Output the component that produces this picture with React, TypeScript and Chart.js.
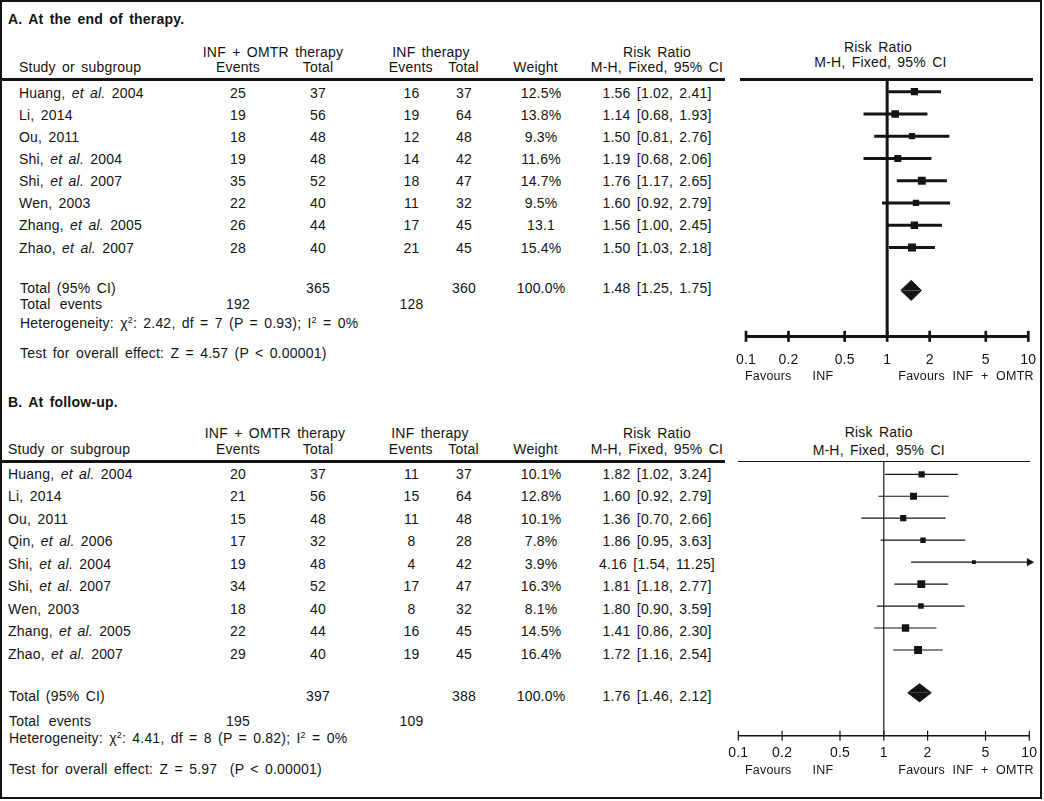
import React, { useEffect, useRef } from "react";
import { Chart, registerables } from "chart.js";

Chart.register(...registerables);

const FONT = '"Liberation Sans", Arial, Helvetica, sans-serif';
const INK = "#141414";

// ---------------- Panel A: At the end of therapy ----------------
const STUDIES_A = [
  "Huang, et al. 2004",
  "Li, 2014",
  "Ou, 2011",
  "Shi, et al. 2004",
  "Shi, et al. 2007",
  "Wen, 2003",
  "Zhang, et al. 2005",
  "Zhao, et al. 2007",
];
const EXP_EVENTS_A = [25, 19, 18, 19, 35, 22, 26, 28];
const EXP_TOTAL_A = [37, 56, 48, 48, 52, 40, 44, 40];
const CTL_EVENTS_A = [16, 19, 12, 14, 18, 11, 17, 21];
const CTL_TOTAL_A = [37, 64, 48, 42, 47, 32, 45, 45];
const WEIGHT_A = ["12.5%", "13.8%", "9.3%", "11.6%", "14.7%", "9.5%", "13.1", "15.4%"];
const RR_A = [1.56, 1.14, 1.5, 1.19, 1.76, 1.6, 1.56, 1.5];
const LO_A = [1.02, 0.68, 0.81, 0.68, 1.17, 0.92, 1.0, 1.03];
const HI_A = [2.41, 1.93, 2.76, 2.06, 2.65, 2.79, 2.45, 2.18];
const TOTALS_A = [365, 360]; // experimental total, control total
const TOTAL_EVENTS_A = [192, 128];
const POOLED_A = [1.48, 1.25, 1.75];
const HET_A = ["2.42", "7", "0.93", "0%"]; // chi2, df, P, I2
const TEST_A = "Z = 4.57 (P < 0.00001)";

// ---------------- Panel B: At follow-up ----------------
const STUDIES_B = [
  "Huang, et al. 2004",
  "Li, 2014",
  "Ou, 2011",
  "Qin, et al. 2006",
  "Shi, et al. 2004",
  "Shi, et al. 2007",
  "Wen, 2003",
  "Zhang, et al. 2005",
  "Zhao, et al. 2007",
];
const EXP_EVENTS_B = [20, 21, 15, 17, 19, 34, 18, 22, 29];
const EXP_TOTAL_B = [37, 56, 48, 32, 48, 52, 40, 44, 40];
const CTL_EVENTS_B = [11, 15, 11, 8, 4, 17, 8, 16, 19];
const CTL_TOTAL_B = [37, 64, 48, 28, 42, 47, 32, 45, 45];
const WEIGHT_B = ["10.1%", "12.8%", "10.1%", "7.8%", "3.9%", "16.3%", "8.1%", "14.5%", "16.4%"];
const RR_B = [1.82, 1.6, 1.36, 1.86, 4.16, 1.81, 1.8, 1.41, 1.72];
const LO_B = [1.02, 0.92, 0.7, 0.95, 1.54, 1.18, 0.9, 0.86, 1.16];
const HI_B = [3.24, 2.79, 2.66, 3.63, 11.25, 2.77, 3.59, 2.3, 2.54];
const TOTALS_B = [397, 388];
const TOTAL_EVENTS_B = [195, 109];
const POOLED_B = [1.76, 1.46, 2.12];
const HET_B = ["4.41", "8", "0.82", "0%"];
const TEST_B = "Z = 5.97  (P < 0.00001)";

// ---------------- Axis ----------------
const TICK_VALUES = [0.1, 0.2, 0.5, 1, 2, 5, 10];
const TICK_LABELS = ["0.1", "0.2", "0.5", "1", "2", "5", "10"];
const X_MIN = 0.1;
const X_MAX = 10;
const TICK_FONT = 14;

const fmt = (v: number) => v.toFixed(2);

function T(props: {
  x: number;
  y: number;
  a?: "l" | "c" | "r";
  b?: boolean;
  style?: React.CSSProperties;
  children: React.ReactNode;
}) {
  const { x, y, a = "l", b, children, style } = props;
  const tx = a === "c" ? "-50%" : a === "r" ? "-100%" : "0";
  return (
    <div
      style={{
        position: "absolute",
        left: x,
        top: y,
        transform: `translate(${tx}, -50%)`,
        whiteSpace: "pre",
        lineHeight: "16px",
        height: 16,
        fontWeight: b ? "bold" : "normal",
        ...style,
      }}
    >
      {children}
    </div>
  );
}

function Name({ s }: { s: string }) {
  const parts = s.split("et al.");
  if (parts.length === 1) return <>{s}</>;
  return (
    <>
      {parts[0]}
      <i>et al.</i>
      {parts[1]}
    </>
  );
}

const supStyle: React.CSSProperties = {
  fontSize: 9,
  position: "relative",
  top: -5,
  verticalAlign: "baseline",
  lineHeight: 0,
};

type TableLayout = {
  title: string;
  titleY: number;
  nameX: number;
  h1Y: number;
  h2Y: number;
  grpExpX: number;
  grpCtlX: number;
  row0: number;
  step: number;
  totalY: number;
  eventsY: number;
  hetY: number;
  testY: number;
  ruleY: number;
};

const COL = { expEv: 238, expTot: 318, ctlEv: 411.5, ctlTot: 464, weightHead: 535.6, weight: 541, rr: 657 };

function Table(props: {
  L: TableLayout;
  studies: string[];
  expEv: number[];
  expTot: number[];
  ctlEv: number[];
  ctlTot: number[];
  weight: string[];
  rr: number[];
  lo: number[];
  hi: number[];
  totals: number[];
  events: number[];
  pooled: number[];
  het: string[];
  test: string;
}) {
  const { L } = props;
  return (
    <>
      <T x={8} y={L.titleY} b>
        {L.title}
      </T>
      <T x={L.grpExpX} y={L.h1Y} a="c">INF + OMTR therapy</T>
      <T x={L.grpCtlX} y={L.h1Y} a="c">INF therapy</T>
      <T x={COL.rr} y={L.h1Y} a="c">Risk Ratio</T>
      <T x={L.nameX} y={L.h2Y}>Study or subgroup</T>
      <T x={COL.expEv} y={L.h2Y} a="c">Events</T>
      <T x={COL.expTot} y={L.h2Y} a="c">Total</T>
      <T x={COL.ctlEv - 0.7} y={L.h2Y} a="c">Events</T>
      <T x={COL.ctlTot - 0.5} y={L.h2Y} a="c">Total</T>
      <T x={COL.weightHead} y={L.h2Y} a="c">Weight</T>
      <T x={COL.rr} y={L.h2Y} a="c">M-H, Fixed, 95% CI</T>
      <div style={{ position: "absolute", left: 0, top: L.ruleY - 1.5, width: 725, height: 3, background: INK }} />
      {props.studies.map((s, i) => {
        const y = L.row0 + i * L.step;
        return (
          <React.Fragment key={s + i}>
            <T x={L.nameX} y={y}>
              <Name s={s} />
            </T>
            <T x={COL.expEv} y={y} a="c">{String(props.expEv[i])}</T>
            <T x={COL.expTot} y={y} a="c">{String(props.expTot[i])}</T>
            <T x={COL.ctlEv} y={y} a="c">{String(props.ctlEv[i])}</T>
            <T x={COL.ctlTot} y={y} a="c">{String(props.ctlTot[i])}</T>
            <T x={COL.weight} y={y} a="c">{props.weight[i]}</T>
            <T x={COL.rr} y={y} a="c">{`${fmt(props.rr[i])} [${fmt(props.lo[i])}, ${fmt(props.hi[i])}]`}</T>
          </React.Fragment>
        );
      })}
      <T x={L.nameX + 1} y={L.totalY}>Total (95% CI)</T>
      <T x={COL.expTot} y={L.totalY} a="c">{String(props.totals[0])}</T>
      <T x={COL.ctlTot} y={L.totalY} a="c">{String(props.totals[1])}</T>
      <T x={COL.weight} y={L.totalY} a="c">100.0%</T>
      <T x={COL.rr} y={L.totalY} a="c">{`${fmt(props.pooled[0])} [${fmt(props.pooled[1])}, ${fmt(props.pooled[2])}]`}</T>
      <T x={L.nameX + 1} y={L.eventsY} style={{ wordSpacing: "5px" }}>Total events</T>
      <T x={COL.expEv} y={L.eventsY} a="c">{String(props.events[0])}</T>
      <T x={COL.ctlEv} y={L.eventsY} a="c">{String(props.events[1])}</T>
      <T x={L.nameX + 1} y={L.hetY}>
        Heterogeneity: χ<span style={supStyle}>2</span>: {props.het[0]}, df = {props.het[1]} (P = {props.het[2]}); I
        <span style={supStyle}>2</span> = {props.het[3]}
      </T>
      <T x={L.nameX + 1} y={L.testY}>{`Test for overall effect: ${props.test}`}</T>
    </>
  );
}

type ForestGeom = {
  canvasLeft: number;
  canvasWidth: number;
  plotLeft: number;
  plotRight: number;
  top: number;
  bottom: number;
  row0: number;
  rowStep: number;
  pooledRow: number;
  diamondHalf: number;
  lineW: number;
  axisW: number;
  tickR: number;
  tickW: number;
  labelY: number;
  squareK: number;
};

function Forest(props: {
  g: ForestGeom;
  rr: number[];
  lo: number[];
  hi: number[];
  weight: string[];
  pooled: number[];
}) {
  const { g } = props;
  const ref = useRef<HTMLCanvasElement>(null);
  const canvasTop = g.top - 12;
  const lh = TICK_FONT * 1.2;
  const pad = g.labelY - g.bottom - lh / 2;
  const height = Math.round(g.bottom - canvasTop + 60);

  useEffect(() => {
    if (!ref.current) return;
    const yMin = (g.top - g.row0) / g.rowStep;
    const yMax = (g.bottom - g.row0) / g.rowStep;
    const padBottom = height - (g.bottom - canvasTop) - 2 * pad - lh;
    const idx = props.rr.map((_, i) => i);
    const w = props.weight.map((s) => parseFloat(s));

    const lineDs = (data: { x: number; y: number }[], width: number, extra: any = {}) => ({
      type: "line" as const,
      data,
      borderColor: INK,
      backgroundColor: INK,
      borderWidth: width,
      pointRadius: 0,
      fill: false,
      tension: 0,
      ...extra,
    });

    const [pe, pl, ph] = props.pooled;
    const T0 = g.pooledRow;
    const datasets: any[] = [
      {
        type: "scatter",
        data: idx.map((i) => ({ x: props.rr[i], y: i })),
        pointStyle: "rect",
        pointRadius: w.map((v) => (g.squareK * Math.sqrt(v)) / Math.SQRT2),
        pointBackgroundColor: INK,
        pointBorderWidth: 0,
      },
      {
        type: "scatter",
        data: idx.filter((i) => props.hi[i] > X_MAX).map((i) => ({ x: X_MAX, y: i })),
        pointStyle: "triangle",
        rotation: 90,
        pointRadius: 4.8,
        pointBackgroundColor: INK,
        pointBorderWidth: 0,
        clip: false,
      },
      lineDs(
        [
          { x: pl, y: T0 },
          { x: pe, y: T0 - g.diamondHalf },
          { x: ph, y: T0 },
        ],
        1,
        { fill: { value: T0 } }
      ),
      lineDs(
        [
          { x: pl, y: T0 },
          { x: pe, y: T0 + g.diamondHalf },
          { x: ph, y: T0 },
        ],
        1,
        { fill: { value: T0 } }
      ),
      {
        type: "scatter",
        data: TICK_VALUES.map((v) => ({ x: v, y: yMax })),
        pointStyle: "line",
        rotation: 90,
        pointRadius: g.tickR,
        pointBorderColor: INK,
        pointBorderWidth: g.tickW,
        clip: false,
      },
      ...idx.map((i) =>
        lineDs(
          [
            { x: props.lo[i], y: i },
            { x: Math.min(props.hi[i], X_MAX), y: i },
          ],
          g.lineW
        )
      ),
      lineDs(
        [
          { x: 1, y: yMin },
          { x: 1, y: yMax },
        ],
        g.lineW
      ),
    ];

    const chart = new Chart(ref.current, {
      type: "scatter",
      data: { datasets },
      options: {
        animation: false,
        responsive: false,
        events: [],
        layout: {
          padding: {
            left: g.plotLeft - g.canvasLeft,
            right: g.canvasLeft + g.canvasWidth - g.plotRight,
            top: g.top - canvasTop,
            bottom: padBottom,
          },
        },
        plugins: { legend: { display: false }, tooltip: { enabled: false } },
        scales: {
          x: {
            type: "logarithmic",
            min: X_MIN,
            max: X_MAX,
            bounds: "data",
            afterBuildTicks: (s: any) => {
              s.ticks = TICK_VALUES.map((v) => ({ value: v }));
            },
            ticks: {
              callback: (_v: any, i: number) => TICK_LABELS[i],
              font: { family: FONT, size: TICK_FONT },
              color: INK,
              padding: pad,
              maxRotation: 0,
              minRotation: 0,
              autoSkip: false,
            },
            grid: { display: false, drawTicks: false },
            border: { display: true, color: INK, width: g.axisW },
          },
          y: { type: "linear", reverse: true, min: yMin, max: yMax, bounds: "data", display: false },
        },
      } as any,
    });
    return () => chart.destroy();
  }, []);

  return (
    <canvas
      ref={ref}
      width={g.canvasWidth}
      height={height}
      style={{ position: "absolute", left: g.canvasLeft, top: canvasTop, width: g.canvasWidth, height }}
    />
  );
}

const LAYOUT_A: TableLayout = {
  title: "A. At the end of therapy.",
  titleY: 19,
  nameX: 19,
  h1Y: 52,
  h2Y: 67,
  grpExpX: 273,
  grpCtlX: 431,
  row0: 92.5,
  step: 22.15,
  totalY: 287.5,
  eventsY: 304,
  hetY: 323,
  testY: 352.5,
  ruleY: 79,
};

const LAYOUT_B: TableLayout = {
  title: "B. At follow-up.",
  titleY: 402,
  nameX: 8,
  h1Y: 433,
  h2Y: 449,
  grpExpX: 275,
  grpCtlX: 430,
  row0: 473.5,
  step: 22.5,
  totalY: 696,
  eventsY: 720.5,
  hetY: 738,
  testY: 768.5,
  ruleY: 461,
};

const GEOM_A: ForestGeom = {
  canvasLeft: 690,
  canvasWidth: 400,
  plotLeft: 746,
  plotRight: 1028.3,
  top: 79,
  bottom: 336.3,
  row0: 91.7,
  rowStep: 22.25,
  pooledRow: 8.93,
  diamondHalf: 0.45,
  lineW: 3,
  axisW: 3,
  tickR: 5.5,
  tickW: 2.7,
  labelY: 360.5,
  squareK: 2.05,
};

const GEOM_B: ForestGeom = {
  canvasLeft: 690,
  canvasWidth: 400,
  plotLeft: 738.3,
  plotRight: 1029.3,
  top: 461,
  bottom: 735.7,
  row0: 474.3,
  rowStep: 21.96,
  pooledRow: 9.95,
  diamondHalf: 0.41,
  lineW: 1.2,
  axisW: 1.5,
  tickR: 5,
  tickW: 1.2,
  labelY: 753.3,
  squareK: 1.95,
};

const favStyle: React.CSSProperties = { fontSize: 12.5, wordSpacing: "4px" };

export default function App() {
  return (
    <div
      style={{
        position: "absolute",
        left: 0,
        top: 0,
        width: 1044,
        height: 801,
        overflow: "hidden",
        background: "#fff",
        fontFamily: FONT,
        fontSize: 14,
        color: INK,
        wordSpacing: "2.2px",
        letterSpacing: "0.2px",
      }}
    >
      <div
        style={{
          position: "absolute",
          left: 0,
          top: 0,
          width: 1042,
          height: 799,
          border: `2px solid ${INK}`,
          boxSizing: "border-box",
        }}
      />
      <Table
        L={LAYOUT_A}
        studies={STUDIES_A}
        expEv={EXP_EVENTS_A}
        expTot={EXP_TOTAL_A}
        ctlEv={CTL_EVENTS_A}
        ctlTot={CTL_TOTAL_A}
        weight={WEIGHT_A}
        rr={RR_A}
        lo={LO_A}
        hi={HI_A}
        totals={TOTALS_A}
        events={TOTAL_EVENTS_A}
        pooled={POOLED_A}
        het={HET_A}
        test={TEST_A}
      />
      <Table
        L={LAYOUT_B}
        studies={STUDIES_B}
        expEv={EXP_EVENTS_B}
        expTot={EXP_TOTAL_B}
        ctlEv={CTL_EVENTS_B}
        ctlTot={CTL_TOTAL_B}
        weight={WEIGHT_B}
        rr={RR_B}
        lo={LO_B}
        hi={HI_B}
        totals={TOTALS_B}
        events={TOTAL_EVENTS_B}
        pooled={POOLED_B}
        het={HET_B}
        test={TEST_B}
      />
      {/* plot headers and rules */}
      <T x={878} y={46.5} a="c">Risk Ratio</T>
      <T x={880.5} y={62} a="c">M-H, Fixed, 95% CI</T>
      <div style={{ position: "absolute", left: 740, top: 77.5, width: 293, height: 3, background: INK }} />
      <T x={878.7} y={432} a="c">Risk Ratio</T>
      <T x={878.8} y={450} a="c">M-H, Fixed, 95% CI</T>
      <div style={{ position: "absolute", left: 738, top: 460.5, width: 292, height: 1, background: INK }} />
      <Forest g={GEOM_A} rr={RR_A} lo={LO_A} hi={HI_A} weight={WEIGHT_A} pooled={POOLED_A} />
      <Forest g={GEOM_B} rr={RR_B} lo={LO_B} hi={HI_B} weight={WEIGHT_B} pooled={POOLED_B} />
      <T x={745} y={375.5} style={favStyle}>Favours</T>
      <T x={812.5} y={375.5} style={favStyle}>INF</T>
      <T x={898.3} y={375.5} style={favStyle}>Favours INF + OMTR</T>
      <T x={745} y={770} style={favStyle}>Favours</T>
      <T x={812.5} y={770} style={favStyle}>INF</T>
      <T x={898.3} y={770} style={favStyle}>Favours INF + OMTR</T>
    </div>
  );
}
